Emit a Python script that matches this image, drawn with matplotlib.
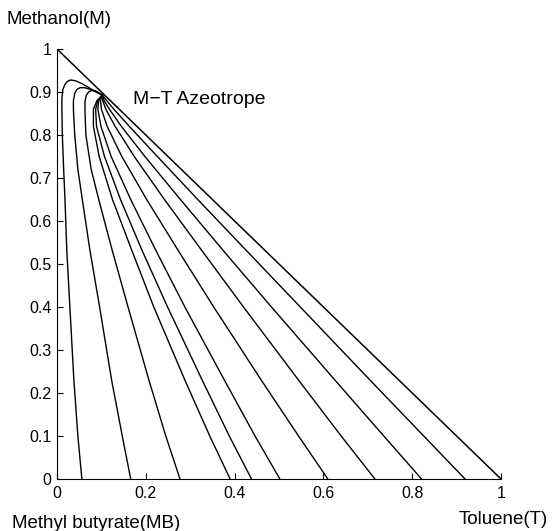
import matplotlib.pyplot as plt
import numpy as np

plt.rcParams['font.family'] = ['Liberation Sans', 'DejaVu Sans']

# residue curves as (toluene, methanol) points,
# running from the methyl butyrate - toluene edge up to the M-T azeotrope
curve_x = [
    [0.056, 0.047, 0.038, 0.029, 0.022, 0.018, 0.015, 0.012, 0.011, 0.011, 0.013, 0.018, 0.024, 0.031, 0.042, 0.057, 0.075, 0.102],
    [0.166, 0.147, 0.123, 0.096, 0.074, 0.057, 0.047, 0.040, 0.037, 0.037, 0.040, 0.045, 0.052, 0.062, 0.075, 0.090, 0.102],
    [0.277, 0.245, 0.207, 0.160, 0.124, 0.094, 0.077, 0.065, 0.063, 0.063, 0.066, 0.071, 0.078, 0.088, 0.102],
    [0.390, 0.344, 0.288, 0.218, 0.168, 0.125, 0.095, 0.082, 0.082, 0.090, 0.102],
    [0.438, 0.388, 0.327, 0.249, 0.191, 0.143, 0.107, 0.089, 0.087, 0.092, 0.102],
    [0.502, 0.446, 0.377, 0.288, 0.222, 0.166, 0.122, 0.099, 0.092, 0.094, 0.102],
    [0.610, 0.544, 0.460, 0.353, 0.272, 0.202, 0.146, 0.113, 0.100, 0.098, 0.102],
    [0.716, 0.640, 0.544, 0.420, 0.325, 0.242, 0.174, 0.131, 0.110, 0.103, 0.102],
    [0.821, 0.736, 0.626, 0.483, 0.373, 0.278, 0.198, 0.145, 0.118, 0.106, 0.102],
    [0.919, 0.826, 0.705, 0.548, 0.425, 0.317, 0.226, 0.163, 0.128, 0.112, 0.102],
]
curve_y = [
    [0.0, 0.10, 0.23, 0.40, 0.533, 0.65, 0.72, 0.80, 0.86, 0.885, 0.905, 0.918, 0.925, 0.928, 0.926, 0.919, 0.908, 0.893],
    [0.0, 0.10, 0.23, 0.40, 0.533, 0.65, 0.72, 0.80, 0.858, 0.880, 0.897, 0.906, 0.910, 0.910, 0.906, 0.899, 0.893],
    [0.0, 0.10, 0.23, 0.40, 0.533, 0.65, 0.72, 0.80, 0.858, 0.878, 0.892, 0.900, 0.904, 0.902, 0.893],
    [0.0, 0.10, 0.23, 0.40, 0.533, 0.65, 0.75, 0.82, 0.86, 0.88, 0.893],
    [0.0, 0.10, 0.23, 0.40, 0.533, 0.65, 0.75, 0.82, 0.86, 0.88, 0.893],
    [0.0, 0.10, 0.23, 0.40, 0.533, 0.65, 0.75, 0.82, 0.86, 0.88, 0.893],
    [0.0, 0.10, 0.23, 0.40, 0.533, 0.65, 0.75, 0.82, 0.86, 0.88, 0.893],
    [0.0, 0.10, 0.23, 0.40, 0.533, 0.65, 0.75, 0.82, 0.86, 0.88, 0.893],
    [0.0, 0.10, 0.23, 0.40, 0.533, 0.65, 0.75, 0.82, 0.86, 0.88, 0.893],
    [0.0, 0.10, 0.23, 0.40, 0.533, 0.65, 0.75, 0.82, 0.86, 0.88, 0.893],
]

edge_x = [0, 1]
edge_y = [1, 0]

yticks = [0, 0.1, 0.2, 0.3, 0.4, 0.5, 0.6, 0.7, 0.8, 0.9, 1]
ytick_labels = ['0', '0.1', '0.2', '0.3', '0.4', '0.5', '0.6', '0.7', '0.8', '0.9', '1']
xticks = [0, 0.2, 0.4, 0.6, 0.8, 1]
xtick_labels = ['0', '0.2', '0.4', '0.6', '0.8', '1']

fig = plt.figure(figsize=(5.52, 5.31), dpi=100)
ax = fig.add_axes([57/552, 52/531, 444/552, 430/531])

for cx, cy in zip(curve_x, curve_y):
    ax.plot(cx, cy, color='black', lw=1.0)
ax.plot(edge_x, edge_y, color='black', lw=1.1)

ax.set_xlim(0, 1)
ax.set_ylim(0, 1)
ax.spines['top'].set_visible(False)
ax.spines['right'].set_visible(False)
ax.spines['left'].set_linewidth(0.8)
ax.spines['bottom'].set_linewidth(0.8)

ax.set_yticks(yticks)
ax.set_yticklabels(ytick_labels)
ax.set_xticks(xticks)
ax.set_xticklabels(xtick_labels)
ax.tick_params(direction='in', length=4, width=0.8, labelsize=11.5)
ax.tick_params(axis='x', pad=5)
ax.tick_params(axis='y', pad=4)

ax.text(0.171, 0.882, 'M\u2212T Azeotrope', fontsize=14, va='center', ha='left')

fig.text(7/552, 1 - 19/531, 'Methanol(M)', fontsize=13.5, va='center', ha='left')
fig.text(12/552, 1 - 523/531, 'Methyl butyrate(MB)', fontsize=13.5, va='center', ha='left')
fig.text(548/552, 1 - 519/531, 'Toluene(T)', fontsize=13.5, va='center', ha='right')

fig.savefig('out.png', dpi=100)
